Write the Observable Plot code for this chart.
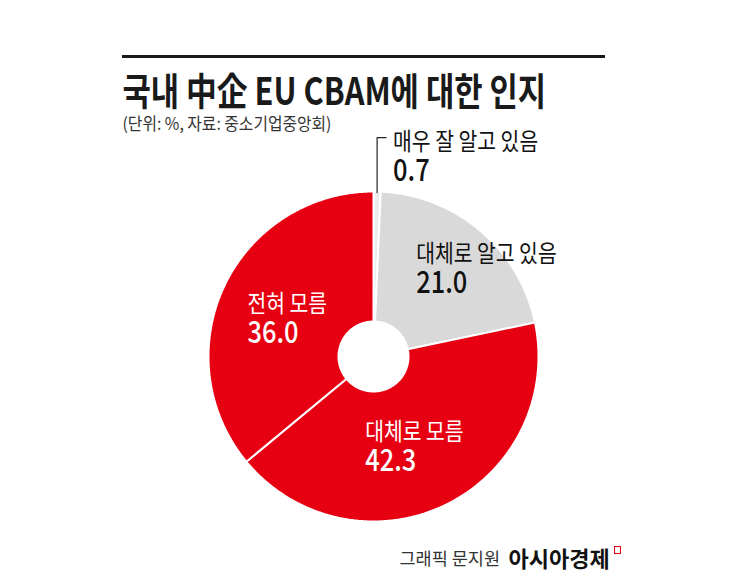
<!DOCTYPE html>
<html><head><meta charset="utf-8">
<script src="https://cdn.jsdelivr.net/npm/d3@7"></script>
<script src="https://cdn.jsdelivr.net/npm/@observablehq/plot@0.6"></script>
<style>
html,body{margin:0;padding:0;background:#fff;}
#wrap{position:relative;width:745px;height:580px;overflow:hidden;}
#wrap svg{position:absolute;left:0;top:0;}
#rule{position:absolute;left:122px;top:55px;width:483px;height:3px;background:#1a1a1a;}
#logo{position:absolute;left:614px;top:546px;width:5px;height:6px;border:1.5px solid #e60012;}
</style></head><body>
<div id="wrap"><div id="rule"></div><div id="logo"></div></div>
<script>
// ---- data ----
const categories = ["매우 잘 알고 있음", "대체로 알고 있음", "대체로 모름", "전혀 모름"];
const values = [0.7, 21.0, 42.3, 36.0];
const valueLabels = ["0.7", "21.0", "42.3", "36.0"];
const titleText = "국내 中企 EU CBAM에 대한 인지";
const subtitleText = "(단위: %, 자료: 중소기업중앙회)";
const creditText = "그래픽 문지원";
const brandText = "아시아경제";

// ---- styles / layout ----
const sliceColors = ["#ececec", "#d9d9d9", "#e60012", "#e60012"];
const labelColors = ["#111111", "#111111", "#ffffff", "#ffffff"];
const FONT = "'Noto Sans CJK KR', 'Noto Sans', sans-serif";
const PX = 1 / 164;              // unit per pixel
const R_OUT = 1 + PX, R_IN = 35 * PX;
const labelLayout = [null, {dx: -21, dy: -19}, {dx: -51, dy: -5}, {dx: -37, dy: -3}];
const valueGap = 31;
const leader = {rise: 55, run: 9, gap: 16, dy: 12};

const rows = categories.map((c, i) => ({key: c, value: values[i], label: valueLabels[i], color: sliceColors[i], ink: labelColors[i]}));
const arcs = d3.pie().sort(null).value(d => d.value)(rows);
const polar = (a, r) => [r * Math.sin(a), r * Math.cos(a)];

const slicePts = [];
arcs.forEach(a => {
  const n = Math.max(2, Math.ceil((a.endAngle - a.startAngle) / (Math.PI / 360)));
  for (let k = 0; k <= n; k++) {
    const t = a.startAngle + (a.endAngle - a.startAngle) * k / n;
    const [x, y] = polar(t, R_OUT);
    slicePts.push({key: a.data.key, color: a.data.color, x, y});
  }
  for (let k = n; k >= 0; k--) {
    const t = a.startAngle + (a.endAngle - a.startAngle) * k / n;
    const [x, y] = polar(t, R_IN);
    slicePts.push({key: a.data.key, color: a.data.color, x, y});
  }
});

const labelRows = [];
const leaderPts = [];
arcs.forEach((a, i) => {
  const mid = (a.startAngle + a.endAngle) / 2;
  if (labelLayout[i]) {
    const [cx, cy] = polar(mid, 0.6);
    const L = labelLayout[i];
    labelRows.push({name: a.data.key, label: a.data.label, ink: a.data.ink,
      x: cx + L.dx * PX, yk: cy - L.dy * PX, yv: cy - (L.dy + valueGap) * PX});
  } else {
    const [px, py] = polar(mid, 1);
    const topY = py + leader.rise * PX;
    leaderPts.push({x: px, y: py}, {x: px, y: topY}, {x: px + leader.run * PX, y: topY});
    labelRows.push({name: a.data.key, label: a.data.label, ink: a.data.ink,
      x: px + leader.gap * PX, yk: topY - leader.dy * PX, yv: topY - (leader.dy + valueGap) * PX});
  }
});

const chart = Plot.plot({
  width: 745, height: 580, margin: 0,
  x: {domain: [-1, 1], range: [209, 537], axis: null},
  y: {domain: [-1, 1], range: [520, 192], axis: null},
  color: {type: "identity"},
  style: {background: "transparent", overflow: "visible"},
  marks: [
    Plot.line(slicePts, {x: "x", y: "y", z: "key", fill: "color", stroke: "#ffffff", strokeWidth: 2, curve: "linear-closed", strokeLinejoin: "round"}),
    Plot.line(leaderPts, {x: "x", y: "y", stroke: "#222", strokeWidth: 1.2}),
    Plot.text(labelRows, {x: "x", y: "yk", text: "name", fill: "ink", fontSize: 24, textAnchor: "start", lineAnchor: "bottom", fontFamily: FONT}),
    Plot.text(labelRows, {x: "x", y: "yv", text: "label", fill: "ink", fontSize: 31, fontWeight: 500, textAnchor: "start", lineAnchor: "bottom", fontFamily: FONT}),
    Plot.text([titleText], {text: d => d, frameAnchor: "top-left", dx: 122, dy: 104, fontSize: 38, fontWeight: 700, fill: "#1a1a1a", textAnchor: "start", lineAnchor: "bottom", fontFamily: FONT}),
    Plot.text([subtitleText], {text: d => d, frameAnchor: "top-left", dx: 122, dy: 129, fontSize: 17, fill: "#333", textAnchor: "start", lineAnchor: "bottom", fontFamily: FONT}),
    Plot.text([creditText], {text: d => d, frameAnchor: "top-left", dx: 399, dy: 564, fontSize: 17.5, fill: "#333", textAnchor: "start", lineAnchor: "bottom", fontFamily: FONT}),
    Plot.text([brandText], {text: d => d, frameAnchor: "top-left", dx: 508, dy: 566, fontSize: 22, fontWeight: 700, fill: "#111", textAnchor: "start", lineAnchor: "bottom", fontFamily: FONT})
  ]
});

// horizontal condensing of the narrow typeface, keyed by text content
const condense = new Map([[titleText, 0.81], [subtitleText, 0.93]]);
categories.forEach(c => condense.set(c, 0.85));
valueLabels.forEach(v => condense.set(v, 0.82));
chart.querySelectorAll("text").forEach(t => {
  const s = condense.get(t.textContent);
  if (!s) return;
  const tr = t.getAttribute("transform");
  if (tr) {
    t.setAttribute("transform", tr + ` scale(${s},1)`);
  } else {
    const x = parseFloat(t.getAttribute("x")) || 0;
    const y = parseFloat(t.getAttribute("y")) || 0;
    t.removeAttribute("x"); t.removeAttribute("y");
    t.setAttribute("transform", `translate(${x},${y}) scale(${s},1)`);
  }
});
document.getElementById("wrap").prepend(chart);
</script>
</body></html>
